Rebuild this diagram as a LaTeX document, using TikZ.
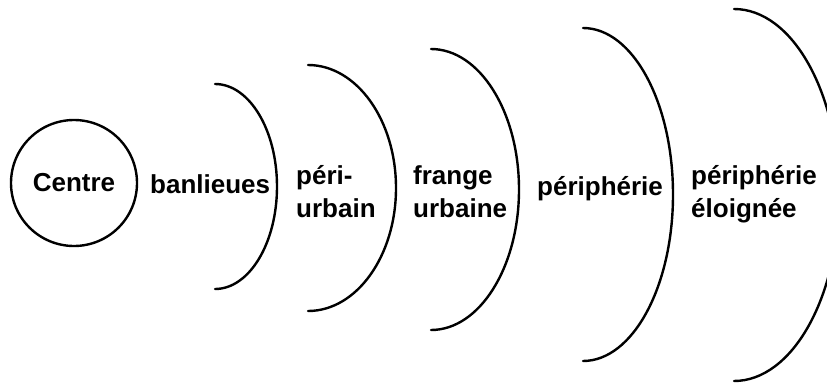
\documentclass[tikz,border=0pt]{standalone}
\usepackage{fontspec}
\setmainfont{Liberation Sans}
\begin{document}
\begin{tikzpicture}[x=1pt,y=-1pt,
  lbl/.style={inner sep=0pt, anchor=base west, align=left,
    font=\bfseries\fontsize{26}{32.5}\selectfont},
  ring/.style={line width=2.4pt, line cap=round}]
\useasboundingbox (0,0) rectangle (827,383);
\clip (0,0) rectangle (827,383);
\node[circle, draw, line width=2.4pt, minimum size=126pt, inner sep=0pt,
  font=\bfseries\fontsize{26}{33}\selectfont] (centre) at (74,183) {Centre};
\draw[ring] (215,84) arc[start angle=-90, end angle=90, x radius=62, y radius=102.5];
\draw[ring] (308,65) arc[start angle=-90, end angle=90, x radius=88, y radius=123];
\draw[ring] (431,49) arc[start angle=-90, end angle=90, x radius=88, y radius=140.5];
\draw[ring] (583,28) arc[start angle=-90, end angle=90, x radius=90, y radius=166.5];
\draw[ring] (734,9) arc[start angle=-90, end angle=90, x radius=105, y radius=186];
\node[lbl] (banl) at (150,193) {banlieues};
\node[lbl] (peri) at (296,217) {péri-\\urbain};
\node[lbl] (frange) at (413,217) {frange\\urbaine};
\node[lbl] (periph) at (537,195) {périphérie};
\node[lbl] (eloig) at (691,217) {périphérie\\éloignée};
\end{tikzpicture}
\end{document}
